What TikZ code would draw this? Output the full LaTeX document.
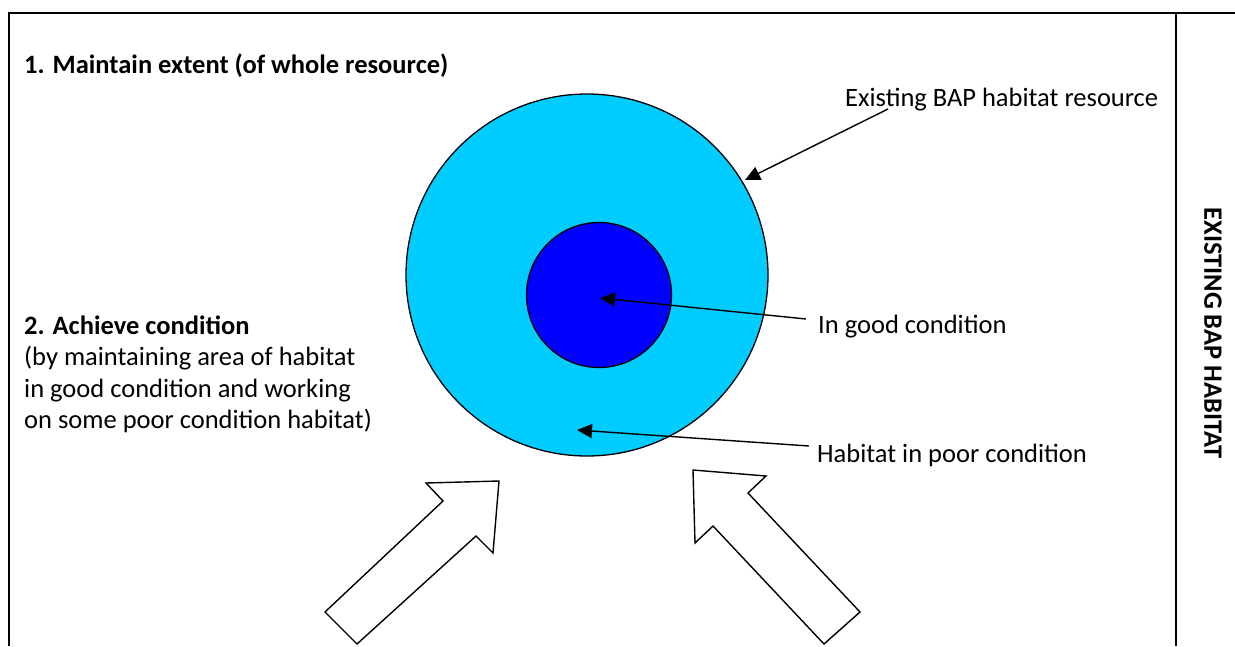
\documentclass[tikz,border=0pt]{standalone}
\usepackage{fontspec}
\setmainfont{Carlito}
\usetikzlibrary{arrows.meta}
\begin{document}
\begin{tikzpicture}[x=1pt,y=-1pt,
  frame/.style={line width=2pt},
  lbl/.style={anchor=base west,inner sep=0pt,font=\fontsize{26.5}{31.7}\selectfont},
  ptr/.style={line width=1.4pt,-{Triangle[length=15pt,width=14pt]}},
  blockarrow/.style={draw,line width=1.4pt,fill=white,line join=miter}]
\useasboundingbox (0,0) rectangle (1235,646);
% frame
\draw[frame] (9,646) -- (9,13) -- (1236,13);
\draw[frame] (1176,13) -- (1176,646);
% circles
\node (outer) [circle,draw,line width=1.3pt,fill={rgb,255:red,0;green,204;blue,255},minimum size=362pt,inner sep=0pt] at (587,275) {};
\node (inner) [circle,draw,line width=1.3pt,fill={rgb,255:red,0;green,0;blue,255},minimum size=145pt,inner sep=0pt] at (599,295) {};
% texts
\node (t1) [lbl,font=\fontsize{26.5}{31.7}\selectfont\bfseries] at (24,73) {1. Maintain extent (of whole resource)};
\node (t2a) [lbl,font=\fontsize{26.5}{31.7}\selectfont\bfseries] at (24,334) {2. Achieve condition};
\node (t2b) [lbl] at (24,365.5) {(by maintaining area of habitat};
\node (t2c) [lbl] at (24,397) {in good condition and working};
\node (t2d) [lbl] at (24,428.5) {on some poor condition habitat)};
\node (res) [lbl] at (845,106) {Existing BAP habitat resource};
\node (good) [lbl] at (818,333) {In good condition};
\node (poor) [lbl] at (817,462) {Habitat in poor condition};
\node (side) [font=\fontsize{26.5}{31}\selectfont\bfseries,rotate=-90,inner sep=0pt] at (1213,333) {EXISTING BAP HABITAT};
% pointers
\coordinate (resS) at (888,109);
\coordinate (resT) at (745,180);
\coordinate (goodS) at (806,319);
\coordinate (goodT) at (600,298);
\coordinate (poorS) at (809,446);
\coordinate (poorT) at (577,430);
\draw[ptr] (resS) -- (resT);
\draw[ptr] (goodS) -- (goodT);
\draw[ptr] (poorS) -- (poorT);
% block arrows
\draw[blockarrow] (325,612) -- (443,501) -- (426,483) -- (499,481) -- (493,553) -- (476,536) -- (357,644) -- cycle;
\draw[blockarrow] (693,470) -- (766,476) -- (748,493) -- (860,612) -- (824,644) -- (713,526) -- (695,543) -- cycle;
\end{tikzpicture}
\end{document}
